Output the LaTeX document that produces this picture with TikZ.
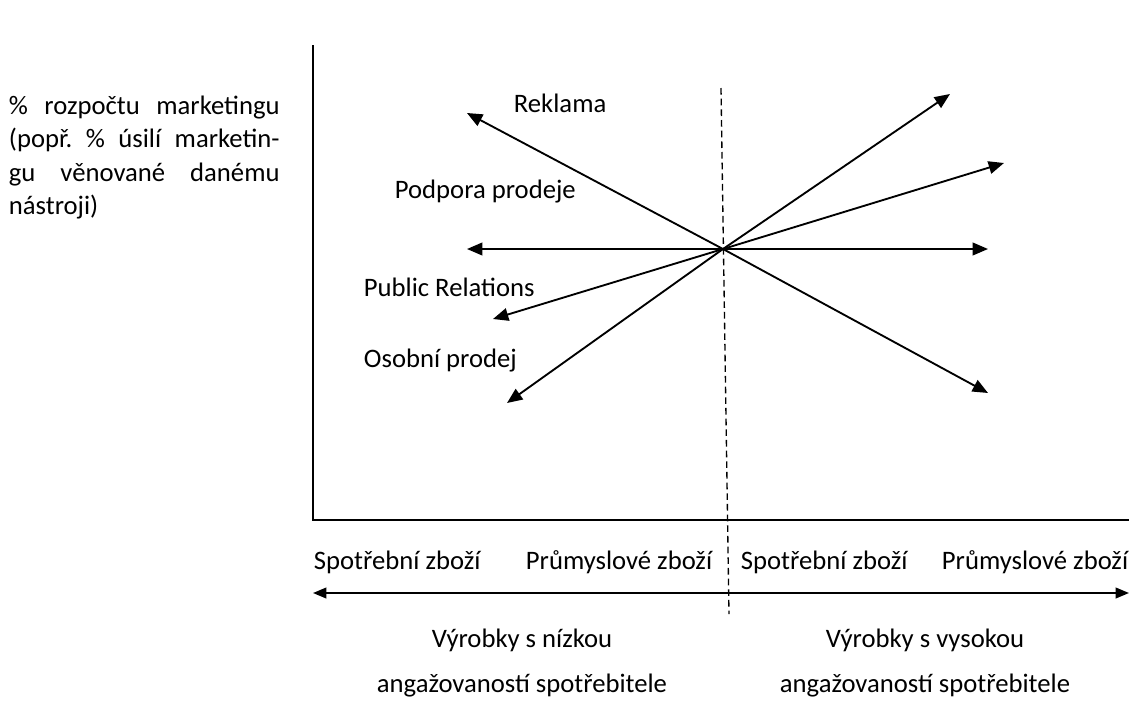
\documentclass[tikz,border=0pt]{standalone}
\usepackage{fontspec}
\setmainfont{Carlito}
\usetikzlibrary{arrows.meta}
\frenchspacing

\tikzset{every picture/.style={line width=1.4pt}}
\tikzset{
	tool arrow/.style={-{Triangle[length=11.5pt,width=9.5pt]}},
	both arrow/.style={{Triangle[length=10pt,width=8pt]}-{Triangle[length=10pt,width=8pt]}},
	split line/.style={line width=1pt, dash pattern={on 5pt off 3pt}},
	lbl/.style={inner sep=0pt, font=\fontsize{20}{25}\selectfont}}

\begin{document}
\begin{tikzpicture}[x=0.75pt,y=0.75pt,yscale=-1,xscale=1]
	\useasboundingbox (0,0) rectangle (1129,704);

	%Coordinates
	\coordinate (c) at (723,249);
	\coordinate (o) at (313,520);
	\coordinate (ytop) at (313,45);
	\coordinate (xend) at (1129,520);
	\coordinate (dtop) at (721,88);
	\coordinate (dbot) at (729,614);
	\coordinate (bl) at (313,593);
	\coordinate (br) at (1129,593);

	%Straight Lines: axes
	\draw (ytop) -- (o) -- (xend);
	%Straight Lines: divider
	\draw [split line] (dtop) -- (dbot);

	%Straight Lines: tools, left side
	\coordinate (rekL) at (467,113);
	\coordinate (podL) at (467,249);
	\coordinate (prL) at (493,319);
	\coordinate (osL) at (507,403);
	\draw [tool arrow] (c) -- (rekL);
	\draw [tool arrow] (c) -- (podL);
	\draw [tool arrow] (c) -- (prL);
	\draw [tool arrow] (c) -- (osL);
	%Straight Lines: tools, right side
	\coordinate (osR) at (950,94);
	\coordinate (prR) at (1004,163);
	\coordinate (podR) at (988,249);
	\coordinate (rekR) at (988,393);
	\draw [tool arrow] (c) -- (osR);
	\draw [tool arrow] (c) -- (prR);
	\draw [tool arrow] (c) -- (podR);
	\draw [tool arrow] (c) -- (rekR);

	%Straight Lines: bottom range
	\draw [both arrow] (bl) -- (br);

	% Text Node
	\node [lbl, anchor=north west, align=left] (ylabel) at (8,95) {%
		\makebox[203pt][s]{\% rozpočtu marketingu}\\
		\makebox[203pt][s]{(popř. \% úsilí marketin-}\\
		\makebox[203pt][s]{gu věnované danému}\\
		nástroji)};
	% Text Node
	\node [lbl, anchor=base west] (rek) at (513,112) {Reklama};
	% Text Node
	\node [lbl, anchor=base west] (pod) at (394,198) {Podpora prodeje};
	% Text Node
	\node [lbl, anchor=base west] (pr) at (363,296) {Public Relations};
	% Text Node
	\node [lbl, anchor=base west] (os) at (363,367) {Osobní prodej};

	% Text Node
	\node [lbl, anchor=base west] (sz1) at (313,569) {Spotřební zboží};
	% Text Node
	\node [lbl, anchor=base west] (pz1) at (525,569) {Průmyslové zboží};
	% Text Node
	\node [lbl, anchor=base west] (sz2) at (740,569) {Spotřební zboží};
	% Text Node
	\node [lbl, anchor=base west] (pz2) at (941,569) {Průmyslové zboží};

	% Text Node
	\node [lbl, anchor=base] (low1) at (522,647) {Výrobky s nízkou};
	% Text Node
	\node [lbl, anchor=base] (low2) at (522,692) {angažovaností spotřebitele};
	% Text Node
	\node [lbl, anchor=base] (high1) at (925,647) {Výrobky s vysokou};
	% Text Node
	\node [lbl, anchor=base] (high2) at (925,692) {angažovaností spotřebitele};

\end{tikzpicture}
\end{document}
